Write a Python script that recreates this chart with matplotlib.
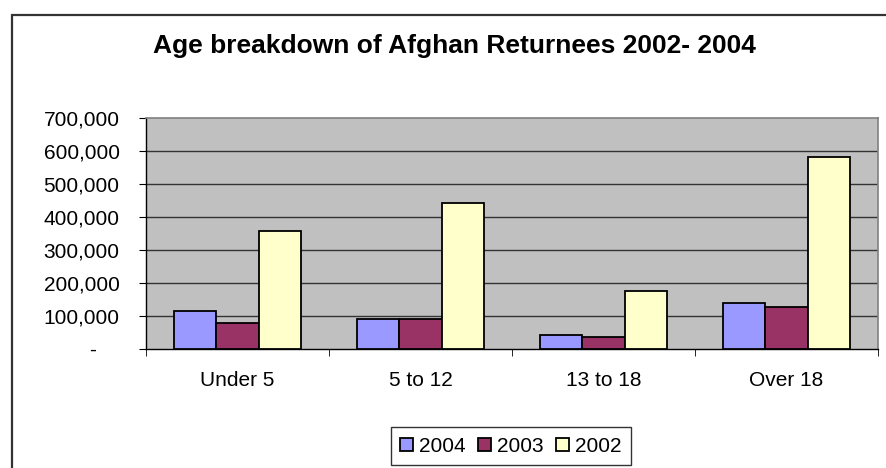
import numpy as np
import matplotlib.pyplot as plt
from matplotlib.patches import Rectangle
from matplotlib.ticker import FuncFormatter, FixedLocator

plt.rcParams['font.family'] = ['Liberation Sans', 'DejaVu Sans']

# data
categories = ["Under 5", "5 to 12", "13 to 18", "Over 18"]
years = ["2004", "2003", "2002"]
v2004 = [115000, 91000, 42000, 140000]
v2003 = [80000, 91000, 36000, 128000]
v2002 = [358000, 443000, 177000, 583000]
colors = ["#9999FF", "#993366", "#FFFFCC"]

fig = plt.figure(figsize=(8.87, 4.68), dpi=100)
W, H = 887, 468

# outer chart border (cropped at right/bottom)
fig.patches.append(Rectangle((12 / W, -0.1), 1.2, 1.1 - 15 / H,
                             transform=fig.transFigure, fill=False,
                             edgecolor="#333333", linewidth=1.6))

ax = fig.add_axes([146 / W, 1 - 349 / H, (878 - 146) / W, (349 - 118.3) / H])
ax.set_facecolor("#C0C0C0")

x = np.arange(len(categories))
bw = 0.23
for i, (vals, col, lab) in enumerate(zip([v2004, v2003, v2002], colors, years)):
    ax.bar(x + (i - 1) * bw, vals, bw, color=col, edgecolor="black",
           linewidth=1.3, label=lab, zorder=3)

ax.set_xlim(-0.5, 3.5)
ax.set_ylim(0, 700000)
ax.set_yticks(np.arange(0, 700001, 100000))
ax.yaxis.set_major_formatter(FuncFormatter(
    lambda v, p: "-    " if v == 0 else f"{int(v):,}"))
for yv in range(100000, 700000, 100000):
    ax.axhline(yv, color="#333333", linewidth=1.0, zorder=1)

ax.set_xticks(x)
ax.set_xticklabels(categories)
ax.xaxis.set_minor_locator(FixedLocator([-0.5, 0.5, 1.5, 2.5, 3.5]))
ax.tick_params(axis="x", which="major", length=0, pad=16, labelsize=15)
ax.tick_params(axis="x", which="minor", length=5, direction="out", color="black")
ax.tick_params(axis="y", length=5, direction="out", pad=14, labelsize=15, color="black")

for s in ["top", "right"]:
    ax.spines[s].set_color("#808080")
    ax.spines[s].set_linewidth(1.2)
for s in ["left", "bottom"]:
    ax.spines[s].set_color("black")
    ax.spines[s].set_linewidth(1.0)

fig.text(454 / W, 1 - 46 / H, "Age breakdown of Afghan Returnees 2002- 2004",
         ha="center", va="center", fontsize=19, fontweight="bold")

leg = fig.legend(loc="center", bbox_to_anchor=(511 / W, 1 - 446 / H), ncol=3,
                 fontsize=15, frameon=True, fancybox=False, edgecolor="black",
                 handlelength=0.6, handleheight=0.6, handletextpad=0.3,
                 columnspacing=0.6, borderpad=0.45, borderaxespad=0)
leg.get_frame().set_linewidth(1.0)

fig.savefig("out.png", dpi=100)
